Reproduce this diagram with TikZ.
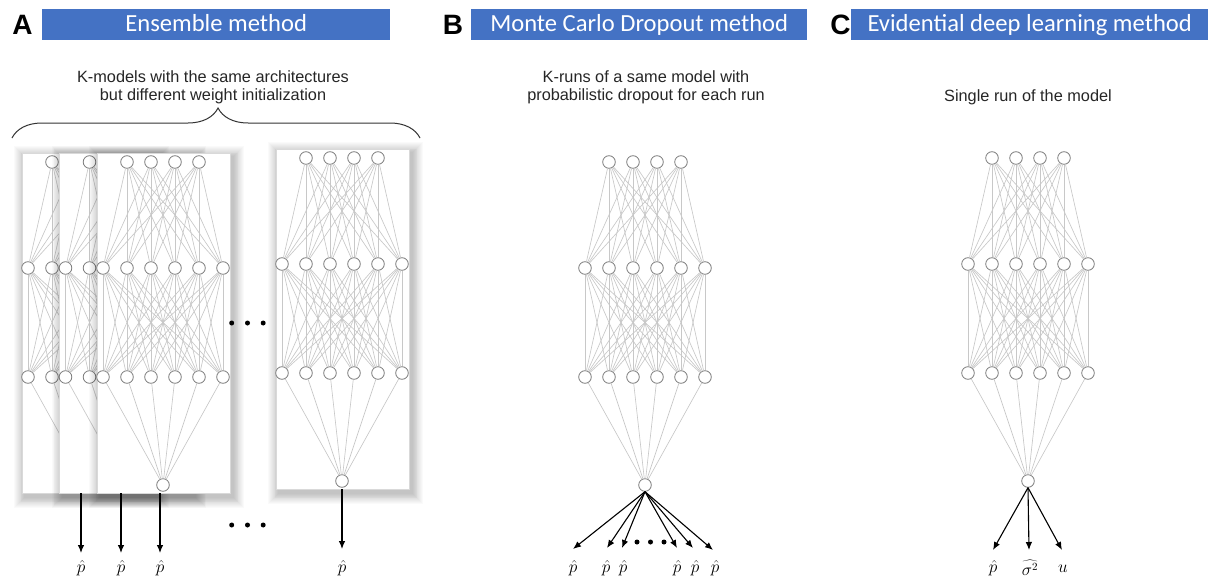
\documentclass[tikz,border=0pt]{standalone}
\usepackage{fontspec}
\setmainfont{Liberation Sans}
\newfontfamily\hdrfont{Carlito}
\usetikzlibrary{arrows.meta,decorations.pathreplacing}
\definecolor{hdrblue}{HTML}{4472C4}
\definecolor{edgegray}{HTML}{C8C8C8}
\definecolor{nodegray}{HTML}{7A7A7A}

\newcommand{\mynet}[3]{%
 \begin{scope}[shift={(#2,#3)}]
  \foreach \i in {1,...,4} \node[neuron] (#1t\i) at ({103+24*\i},162) {};
  \foreach \i in {1,...,6} \node[neuron] (#1a\i) at ({79+24*\i},268) {};
  \foreach \i in {1,...,6} \node[neuron] (#1b\i) at ({79+24*\i},377) {};
  \node[neuron] (#1o) at (163,485) {};
  \foreach \i in {1,...,4} \foreach \j in {1,...,6} \draw[edge] (#1t\i) -- (#1a\j);
  \foreach \i in {1,...,6} \foreach \j in {1,...,6} \draw[edge] (#1a\i) -- (#1b\j);
  \foreach \i in {1,...,6} \draw[edge] (#1b\i) -- (#1o);
 \end{scope}}

\newcommand{\softshadow}[4]{%
  \foreach \k in {1,...,12}{\fill[black,opacity=0.02] ({#1-0.9*\k+3},{#2-0.9*\k+4}) rectangle ({#3+0.9*\k+3},{#4+0.9*\k+4});}}

\begin{document}
\begin{tikzpicture}[x=1pt,y=-1pt,
 neuron/.style={circle, draw=nodegray, line width=0.8pt, fill=white, minimum size=12.6pt, inner sep=0pt},
 edge/.style={draw=edgegray, line width=0.65pt},
 arr/.style={-{Latex[length=8pt,width=6.5pt]}, line width=1.1pt, black},
 hdr/.style={fill=hdrblue, text=white, font=\hdrfont\fontsize{24.6}{28}\selectfont, anchor=north west, inner sep=0pt, minimum height=31pt, text height=16pt, text depth=2pt},
 letter/.style={font=\bfseries\fontsize{28}{30}\selectfont, inner sep=0pt},
 desc/.style={align=center, inner sep=0pt, font=\fontsize{16.3}{18}\selectfont, text=black!85},
 lbl/.style={font=\fontsize{16}{18}\selectfont, inner sep=0pt},
 dot/.style={circle, fill=black, minimum size=5pt, inner sep=0pt},
 panel/.style={fill=white, draw=black!15, line width=0.4pt}]

\useasboundingbox[fill=white] (0,0) rectangle (1211,578);

% headers
\node[letter] (LA) at (22.5,25) {A};
\node[hdr, minimum width=348pt] (hA) at (42,9) {Ensemble method};
\node[letter] (LB) at (453,25) {B};
\node[hdr, minimum width=336pt] (hB) at (471,9) {Monte Carlo Dropout method};
\node[letter] (LC) at (840.5,25) {C};
\node[hdr, minimum width=357pt] (hC) at (851,9) {Evidential deep learning method};

% descriptions
\node[desc, anchor=north] (tA) at (213,70) {K-models with the same architectures\\but different weight initialization};
\node[desc, anchor=north] (tB) at (646,70) {K-runs of a same model with\\probabilistic dropout for each run};
\node[desc, anchor=base] (tC) at (1028,102) {Single run of the model};

% brace
\draw[decorate, decoration={brace, amplitude=30pt, aspect=0.505}, line width=1pt, black!80] (12,138) -- (420,138);

% panel A boxes
\softshadow{22}{153}{155}{493}
\draw[panel] (22,153) rectangle (155,493);
\mynet{Aa}{-75}{0}
\softshadow{59.5}{153}{192.5}{493}
\draw[panel] (59.5,153) rectangle (192.5,493);
\mynet{Ab}{-37.5}{0}
\softshadow{97}{153}{230}{493}
\draw[panel] (97,153) rectangle (230,493);
\mynet{Ac}{0}{0}
\softshadow{276}{149}{409}{489}
\draw[panel] (276,149) rectangle (409,489);
\mynet{Ak}{179}{-4}

% dots A
\node[dot] (dA1) at (231.7,323) {};
\node[dot] (dA2) at (247.5,323) {};
\node[dot] (dA3) at (263.2,323) {};
\node[dot] (dA4) at (231.7,525) {};
\node[dot] (dA5) at (247.5,525) {};
\node[dot] (dA6) at (263.2,525) {};

% arrows A
\coordinate (Aas) at (81,493);  \coordinate (Aae) at (81,553);
\coordinate (Abs) at (121,493); \coordinate (Abe) at (121,553);
\coordinate (Acs) at (160,493); \coordinate (Ace) at (160,553);
\coordinate (Aks) at (342,489); \coordinate (Ake) at (342,549);
\draw[arr] (Aas) -- (Aae);
\draw[arr] (Abs) -- (Abe);
\draw[arr] (Acs) -- (Ace);
\draw[arr] (Aks) -- (Ake);
\node[lbl] (Aal) at (81,568) {$\hat{p}$};
\node[lbl] (Abl) at (121,568) {$\hat{p}$};
\node[lbl] (Acl) at (160,568) {$\hat{p}$};
\node[lbl] (Akl) at (342,568) {$\hat{p}$};

% panel B
\mynet{B}{482}{0}
\coordinate (Be1) at (573,549);
\coordinate (Be2) at (607,548);
\coordinate (Be3) at (622,548);
\coordinate (Be4) at (677,548);
\coordinate (Be5) at (693,548);
\coordinate (Be6) at (713,550);
\foreach \n in {1,...,6} \draw[arr] (Bo.south) -- (Be\n);
\node[lbl] (Bl1) at (573,568) {$\hat{p}$};
\node[lbl] (Bl2) at (606,568) {$\hat{p}$};
\node[lbl] (Bl3) at (623,568) {$\hat{p}$};
\node[lbl] (Bl4) at (677,568) {$\hat{p}$};
\node[lbl] (Bl5) at (695,568) {$\hat{p}$};
\node[lbl] (Bl6) at (715,568) {$\hat{p}$};
\node[dot] (dB1) at (637,542) {};
\node[dot] (dB2) at (650.5,542) {};
\node[dot] (dB3) at (664,542) {};

% panel C
\mynet{C}{865}{-4}
\coordinate (Ce1) at (993,550);
\coordinate (Ce2) at (1029,550);
\coordinate (Ce3) at (1062,550);
\foreach \n in {1,2,3} \draw[arr] (Co.south) -- (Ce\n);
\node[lbl] (Cl1) at (993,568) {$\hat{p}$};
\node[lbl] (Cl2) at (1030,568) {$\widehat{\sigma^2}$};
\node[lbl] (Cl3) at (1063,569) {$u$};
\end{tikzpicture}
\end{document}
